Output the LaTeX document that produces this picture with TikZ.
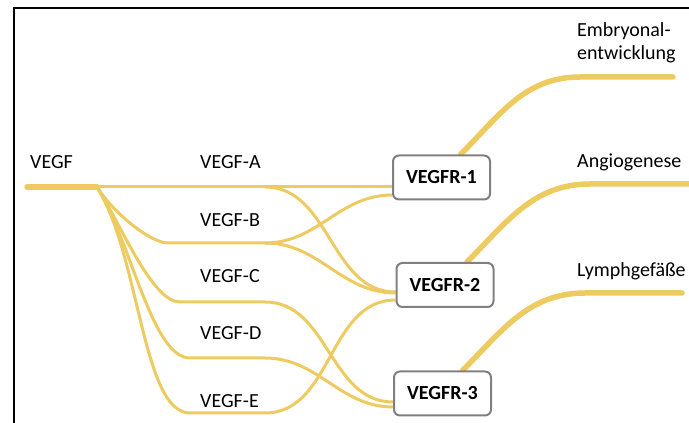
\documentclass[tikz,border=0pt]{standalone}
\usepackage{fontspec}
\setmainfont{Carlito}
\usetikzlibrary{backgrounds}
\definecolor{vegfgelb}{RGB}{237,203,96}
\definecolor{kastengrau}{RGB}{128,128,128}
\begin{document}
\begin{tikzpicture}[x=1pt, y=1pt, font=\fontsize{20}{23}\selectfont,
    faser/.style={vegfgelb, line width=3pt},
    zweig/.style={faser, out=-58, in=180, out looseness=0.85, in looseness=0.5},
    stamm/.style={vegfgelb, line width=5.5pt, line cap=round},
    rezeptor/.style={draw=kastengrau, line width=2pt, rounded corners=6pt, fill=white,
        minimum width=97pt, minimum height=44pt, font=\fontsize{20}{23}\selectfont\bfseries},
    marke/.style={anchor=base west, inner sep=0pt}]
    \useasboundingbox (0,0) rectangle (689,423);

        % Rahmen
        \draw[line width=2.6pt] (14,0) -- (14,415) -- (689,415);

        % Rezeptoren
        \node[rezeptor] (r1) at (441.5,245.5) {VEGFR-1};
        \node[rezeptor] (r2) at (445,138) {VEGFR-2};
        \node[rezeptor] (r3) at (442.5,29.5) {VEGFR-3};

        % Beschriftungen links
        \node[marke] (vegf) at (30,254) {VEGF};
        \node[marke] (la) at (200,254) {VEGF-A};
        \node[marke] (lb) at (200,196) {VEGF-B};
        \node[marke] (lc) at (200,140) {VEGF-C};
        \node[marke] (ld) at (200,83) {VEGF-D};
        \node[marke] (le) at (200,15) {VEGF-E};

        % Beschriftungen rechts
        \node[marke, align=left] (embryo) at (577,363) {Embryonal-\\entwicklung};
        \node[marke] (angio) at (577,255) {Angiogenese};
        \node[marke] (lymph) at (577,146) {Lymphgef\"a\ss e};

        % Knotenpunkte
        \coordinate (stamm) at (27,236);
        \coordinate (gabel) at (97,236);
        \coordinate (a) at (265,236);
        \coordinate (b1) at (168,180);
        \coordinate (b2) at (265,180);
        \coordinate (c1) at (180,121);
        \coordinate (c2) at (265,121);
        \coordinate (d1) at (190,65);
        \coordinate (d2) at (265,65);
        \coordinate (e1) at (190,10);
        \coordinate (e2) at (265,10);
        \coordinate (z1) at (580,346);
        \coordinate (z1e) at (673,346);
        \coordinate (z2) at (590,239);
        \coordinate (z2e) at (689,239);
        \coordinate (z3) at (585,130);
        \coordinate (z3e) at (682,130);

        \begin{scope}[on background layer]
        % VEGF und Verzweigung
        \draw[stamm] (stamm) -- (gabel);
        \draw[faser] (gabel) -- ([yshift=-9.5pt]r1.west);
        \draw[zweig] (gabel) to (b1) -- (b2);
        \draw[zweig] (gabel) to (c1) -- (c2);
        \draw[zweig] (gabel) to (d1) -- (d2);
        \draw[zweig] (gabel) to (e1) -- (e2);

        % Bindung an die Rezeptoren
        \draw[faser] (a) to[out=0, in=180] ([yshift=-7pt]r2.west);
        \draw[faser] (b2) to[out=0, in=180] ([yshift=-17.5pt]r1.west);
        \draw[faser] (b2) to[out=0, in=180] ([yshift=-8pt]r2.west);
        \draw[faser] (c2) to[out=0, in=180] ([yshift=-8.5pt]r3.west);
        \draw[faser] (d2) to[out=0, in=180] ([yshift=-13.5pt]r3.west);
        \draw[faser] (e2) to[out=0, in=180] ([yshift=-15pt]r2.west);

        % Wirkungen
        \draw[stamm] ([xshift=19pt]r1.north) to[out=45, in=180] (z1) -- (z1e);
        \draw[stamm] ([xshift=22pt]r2.north) to[out=45, in=180] (z2) -- (z2e);
        \draw[stamm] ([xshift=20pt]r3.north) to[out=45, in=180] (z3) -- (z3e);
        \end{scope}
    \end{tikzpicture}
\end{document}
